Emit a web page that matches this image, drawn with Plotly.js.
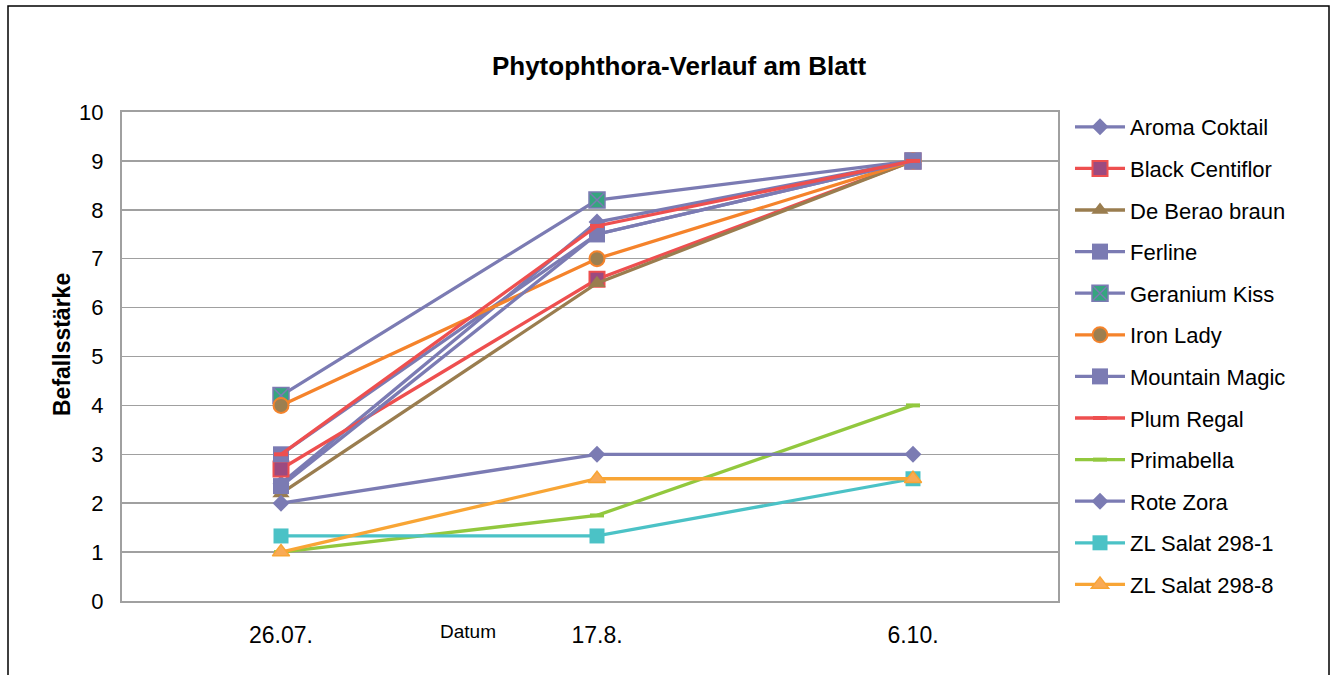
<!DOCTYPE html>
<html>
<head>
<meta charset="utf-8">
<script src="https://cdn.plot.ly/plotly-3.0.1.min.js"></script>
<style>
  html, body { margin: 0; padding: 0; background: #fff; }
  #chart { width: 1336px; height: 675px; }
</style>
</head>
<body>
<div id="chart"></div>
<script>
// ---- data ----
const categories = ['26.07.', '17.8.', '6.10.'];
const aromaCoktail   = [2.4, 7.75, 9];
const blackCentiflor = [2.7, 6.58, 9];
const deBeraoBraun   = [2.2, 6.5, 9];
const ferline        = [3.0, 7.5, 9];
const geraniumKiss   = [4.2, 8.2, 9];
const ironLady       = [4.0, 7.0, 9];
const mountainMagic  = [2.35, 7.5, 9];
const plumRegal      = [3.0, 7.67, 9];
const primabella     = [1.0, 1.75, 4];
const roteZora       = [2.0, 3.0, 3.0];
const zlSalat2981    = [1.33, 1.33, 2.5];
const zlSalat2988    = [1.0, 2.5, 2.5];
const yTicks = [0,1,2,3,4,5,6,7,8,9,10];

const xIdx = categories.map((c, i) => i);
const FONT = 'Liberation Sans, Arial, sans-serif';
const PURPLE = '#7b7bb3';
const RED = '#ee4f4f';
const BROWN = '#9a7d4f';
const ORANGE = '#f5832b';
const GREEN = '#92c83e';
const CYAN = '#4bc2c6';
const YORANGE = '#f8a535';

function tr(name, y, lineColor, marker, gi) {
  return {
    x: xIdx, y: y, name: name, type: 'scatter', mode: 'lines+markers',
    line: {color: lineColor, width: 3.3},
    marker: marker,
    legendgroup: 'g' + gi,
    cliponaxis: false
  };
}

const traces = [
  tr('Aroma Coktail', aromaCoktail, PURPLE, {symbol: 'diamond', size: 13, color: PURPLE}, 1),
  tr('Black Centiflor', blackCentiflor, RED, {symbol: 'square', size: 15, color: '#9c4a80', line: {color: RED, width: 2}}, 2),
  tr('De Berao braun', deBeraoBraun, BROWN, {symbol: 'triangle-up', size: 15, color: BROWN}, 3),
  tr('Ferline', ferline, PURPLE, {symbol: 'square', size: 16, color: PURPLE}, 4),
  tr('Geranium Kiss', geraniumKiss, PURPLE, {symbol: 'square-x', size: 16, color: '#36a57f', line: {color: PURPLE, width: 1.5}}, 5),
  tr('Iron Lady', ironLady, ORANGE, {symbol: 'circle', size: 15, color: '#9c7f50', line: {color: ORANGE, width: 2}}, 6),
  tr('Mountain Magic', mountainMagic, PURPLE, {symbol: 'square', size: 16, color: PURPLE}, 7),
  tr('Plum Regal', plumRegal, RED, {symbol: 'line-ew', size: 10, color: RED, line: {color: RED, width: 4}}, 8),
  tr('Primabella', primabella, GREEN, {symbol: 'line-ew', size: 10, color: GREEN, line: {color: GREEN, width: 4}}, 9),
  tr('Rote Zora', roteZora, PURPLE, {symbol: 'diamond', size: 13, color: PURPLE}, 10),
  tr('ZL Salat 298-1', zlSalat2981, CYAN, {symbol: 'square', size: 15, color: CYAN}, 11),
  tr('ZL Salat 298-8', zlSalat2988, YORANGE, {symbol: 'triangle-up', size: 15, color: '#f9aa55', line: {color: YORANGE, width: 1.5}}, 12)
];

const M = {l: 122, r: 278, t: 112, b: 74};
const PW = 1336 - M.l - M.r, PH = 675 - M.t - M.b;
const px = v => (v - M.l) / PW;
const py = v => (675 - M.b - v) / PH;

const layout = {
  width: 1336, height: 675,
  margin: M,
  paper_bgcolor: '#ffffff', plot_bgcolor: '#ffffff',
  font: {family: FONT, color: '#000', size: 22},
  title: {
    text: '<b>Phytophthora-Verlauf am Blatt</b>',
    font: {family: FONT, size: 26, color: '#000'},
    xref: 'container', x: 679 / 1336, xanchor: 'center',
    yref: 'container', y: 1 - 66 / 675, yanchor: 'middle'
  },
  xaxis: {
    range: [-0.5032, 2.4589],
    tickmode: 'array', tickvals: xIdx, ticktext: categories,
    showgrid: false, zeroline: false,
    showline: true, mirror: true, linecolor: '#a0a0a0', linewidth: 2,
    ticks: '', ticklabelstandoff: 12,
    tickfont: {family: FONT, size: 23, color: '#000'}
  },
  yaxis: {
    range: [0, 10], tickmode: 'array', tickvals: yTicks,
    showgrid: true, gridcolor: '#a0a0a0', gridwidth: 1.5,
    zeroline: false,
    showline: true, mirror: true, linecolor: '#a0a0a0', linewidth: 2,
    ticks: '', ticklabelstandoff: 12,
    tickfont: {family: FONT, size: 22, color: '#000'}
  },
  showlegend: true,
  legend: {
    x: px(1070), y: py(106), xanchor: 'left', yanchor: 'top',
    font: {family: FONT, size: 22, color: '#000'},
    itemwidth: 50, tracegroupgap: 10, traceorder: 'grouped',
    maxheight: 800,
    bgcolor: 'rgba(0,0,0,0)'
  },
  annotations: [
    {text: '<b>Befallsstärke</b>', textangle: -90, xref: 'paper', yref: 'paper',
     x: px(62), y: py(345), xanchor: 'center', yanchor: 'middle', showarrow: false,
     font: {family: FONT, size: 23, color: '#000'}},
    {text: 'Datum', xref: 'paper', yref: 'paper',
     x: px(468), y: py(631), xanchor: 'center', yanchor: 'middle', showarrow: false,
     font: {family: FONT, size: 19, color: '#000'}}
  ],
  shapes: [
    {type: 'rect', xref: 'paper', yref: 'paper',
     x0: px(8), x1: px(1329), y0: py(690), y1: py(6),
     line: {color: '#000', width: 1.5}, fillcolor: 'rgba(0,0,0,0)', layer: 'below'}
  ]
};

Plotly.newPlot('chart', traces, layout, {displayModeBar: false, staticPlot: true});
</script>
</body>
</html>
